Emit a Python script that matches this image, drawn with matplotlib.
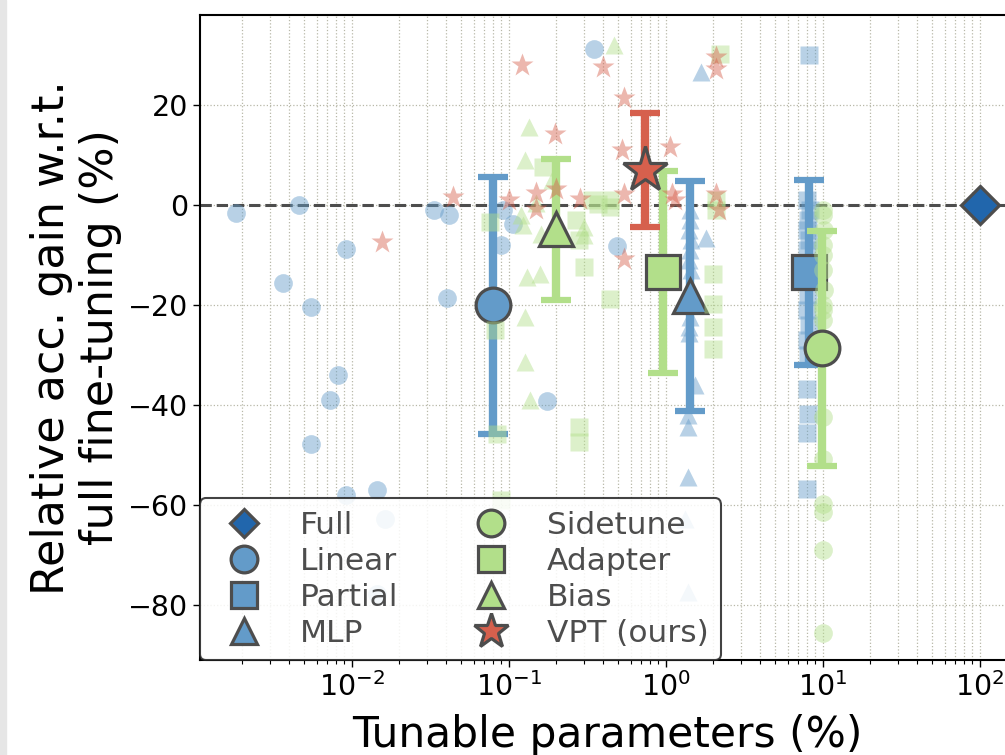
import numpy as np
import matplotlib
matplotlib.use("Agg")
import matplotlib.pyplot as plt
from matplotlib.patches import Rectangle

#####################################################################################
### Couleurs
BLUE = "#639bc9"
DBLUE = "#2166ac"
GREEN = "#b2df8a"
RED = "#d6604d"
EDGE = "#4d4d4d"

#####################################################################################
### Points par tache (parametres ajustables %, gain relatif %)
linear_x = [0.00183, 0.00459, 0.00916, 0.00366, 0.00548, 0.00822, 0.00728, 0.00548,
            0.00916, 0.0144, 0.0163, 0.0144, 0.0334, 0.0419, 0.0407, 0.351, 0.090,
            0.107, 0.092, 0.488, 0.176]
linear_y = [-1.5, 0.0, -8.7, -15.5, -20.3, -34.0, -39.0, -47.8, -58.0, -57.0, -62.7,
            -77.7, -0.9, -1.9, -18.5, 31.2, -8.0, -3.7, -1.0, -8.1, -39.1]

partial_x = [8.2, 8.0, 8.3, 8.1, 7.9, 8.2, 8.0, 8.3, 8.1, 7.9, 8.2, 8.0, 8.1, 8.0,
             8.1, 7.9, 8.0]
partial_y = [30.0, 1.0, -1.0, -3.0, -5.0, -7.0, -9.0, -12.0, -18.0, -21.0, -24.0,
             -27.0, -30.0, -36.7, -41.7, -45.6, -56.8]

mlp_x = [1.69, 1.43, 1.43, 1.40, 1.45, 1.43, 1.40, 1.45, 1.82, 1.43, 1.43, 1.40,
         1.40, 1.54, 1.38, 1.38, 1.38, 1.33, 1.38]
mlp_y = [26.7, -1.0, -3.0, -5.0, -7.0, -9.0, -11.0, -13.0, -6.5, -17.0, -22.3,
         -24.3, -25.5, -36.0, -42.0, -44.3, -54.3, -62.7, -77.3]

sidetune_x = [10.1, 10.0, 10.2, 10.0, 10.1, 10.0, 10.2, 10.0, 10.1, 10.0, 10.0,
              10.0, 10.0, 10.1, 10.0, 10.0]
sidetune_y = [-1.0, -2.0, -5.0, -8.0, -10.0, -13.0, -17.0, -20.0, -21.0, -23.0,
              -42.3, -50.7, -59.8, -61.3, -69.0, -85.5]

adapter_x = [0.076, 0.082, 0.084, 0.090, 0.166, 0.27, 0.30, 0.28, 0.34, 0.37, 0.44,
             0.44, 0.28, 0.28, 2.09, 2.09, 1.99, 1.99, 1.99, 1.99, 2.23, 0.44]
adapter_y = [-3.3, -25.0, -45.7, -59.0, 7.7, -3.0, -12.3, -7.0, 1.0, 0.3, -0.3,
             -18.7, -44.3, -47.3, -1.0, 1.0, -13.7, -19.7, -24.3, -28.7, 30.3, 1.0]

bias_x = [0.135, 0.127, 0.19, 0.124, 0.16, 0.13, 0.158, 0.30, 0.47, 0.127, 0.128,
          0.136, 0.30, 0.12, 0.15]
bias_y = [15.7, 9.0, 5.0, -4.0, -5.7, -14.3, -13.7, -4.3, 32.0, -22.3, -31.3,
          -39.0, -6.0, -2.0, 0.5]

vpt_x = [0.0155, 0.044, 0.10, 0.122, 0.15, 0.15, 0.197, 0.20, 0.284, 0.40, 0.54,
         0.53, 0.54, 0.54, 1.06, 1.10, 1.14, 2.09, 2.10, 2.10, 2.20]
vpt_y = [-7.3, 1.7, 1.0, 28.0, 2.5, -0.7, 14.3, 3.3, 1.3, 27.7, 21.5, 11.1, 2.3,
         -10.7, 11.7, 2.3, 1.0, 29.7, 27.3, 2.3, -1.0]

#####################################################################################
### Moyennes et ecarts-types
methods = ["Full", "Linear", "Partial", "MLP", "Sidetune", "Adapter", "Bias", "VPT (ours)"]
mean_x = [100, 0.079, 8.2, 1.43, 9.9, 0.96, 0.199, 0.74]
mean_y = [0.0, -20.0, -13.4, -18.2, -28.6, -13.4, -4.8, 7.1]
std_y = [0.0, 25.7, 18.5, 23.0, 23.5, 20.2, 14.1, 11.4]

colors = [DBLUE, BLUE, BLUE, BLUE, GREEN, GREEN, GREEN, RED]
markers = ["D", "o", "s", "^", "o", "s", "^", "*"]
msizes = [19, 25, 24, 25, 25, 24, 25, 34]
points = [(None, None), (linear_x, linear_y), (partial_x, partial_y), (mlp_x, mlp_y),
          (sidetune_x, sidetune_y), (adapter_x, adapter_y), (bias_x, bias_y),
          (vpt_x, vpt_y)]

#####################################################################################
### Figure
fig = plt.figure(figsize=(10.05, 7.55), dpi=100)
ax = fig.add_axes([200 / 1005, 1 - 660 / 755, 814 / 1005, 645 / 755])

# bande grise a gauche (bord de capture)
fig.patches.append(Rectangle((0, 0), 6 / 1005, 1, transform=fig.transFigure,
                             color="#e6e6e6", zorder=0))

ax.axhline(0, color=EDGE, ls="--", lw=2.2, zorder=1.5)

for i, m in enumerate(methods):
    px, py = points[i]
    if px is not None:
        ax.plot(px, py, ls="none", marker=markers[i], ms=13.5 if markers[i] != "*" else 17,
                color=colors[i], alpha=0.45, mec="none", zorder=2)
    if std_y[i] > 0:
        ax.errorbar([mean_x[i]], [mean_y[i]], yerr=[std_y[i]], fmt="none",
                    ecolor=colors[i], elinewidth=6, capsize=11, capthick=4.5, zorder=2)
    ax.plot([mean_x[i]], [mean_y[i]], ls="none", marker=markers[i], ms=msizes[i],
            color=colors[i], mec=EDGE, mew=2.3, label=m, zorder=2)

ax.set_xscale("log")
ax.set_xlim(10 ** -2.966, 10 ** 2.219)
ax.set_ylim(-91, 38)
ax.set_yticks([-80, -60, -40, -20, 0, 20])

ax.grid(True, which="both", axis="x", ls=":", lw=0.9, color="#b8b8a8", zorder=0)
ax.grid(True, which="major", axis="y", ls=":", lw=0.9, color="#b8b8a8", zorder=0)
ax.set_axisbelow(True)

ax.tick_params(axis="both", which="major", labelsize=20.5, length=5, width=1)
ax.tick_params(axis="x", which="minor", length=3, width=0.8)
for s in ax.spines.values():
    s.set_linewidth(1.5)

ax.set_xlabel("Tunable parameters (%)", fontsize=30.5, labelpad=9)
ax.set_ylabel("Relative acc. gain w.r.t.\nfull fine-tuning (%)", fontsize=32, labelpad=4)

leg = ax.legend(loc="lower left", ncol=2, fontsize=22.5, markerscale=0.77,
                labelcolor=EDGE, frameon=True, fancybox=True, framealpha=0.85,
                edgecolor="#222222", borderaxespad=0.0, labelspacing=0.22,
                columnspacing=1.95, handletextpad=0.8)
leg.get_frame().set_linewidth(1.5)

fig.savefig("out.png", dpi=100)
